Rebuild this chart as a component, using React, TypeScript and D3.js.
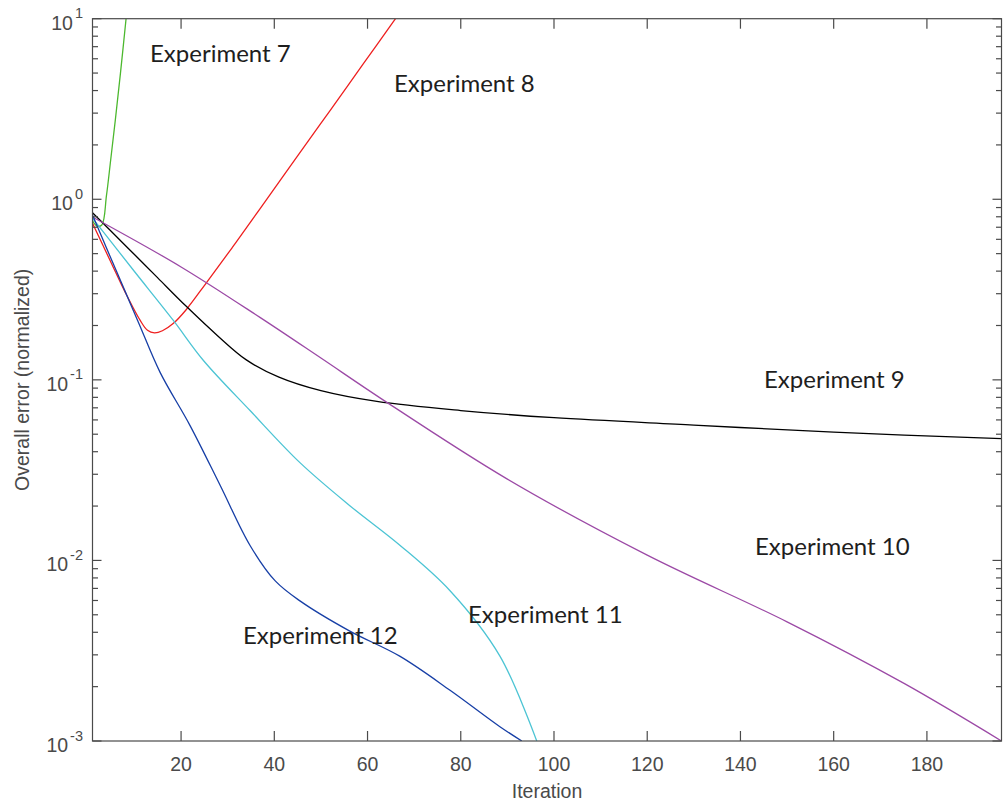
import React, { useEffect, useRef } from 'react';
import * as d3 from 'd3';

// iteration / normalized error
const iterExp7 = [1, 2, 3, 4, 4.9, 5.9, 7, 8.2];
const errExp7 = [0.76, 0.71, 0.72, 1.05, 1.65, 2.75, 5.0, 10];

const iterExp8 = [1, 4.75, 8, 11.2, 12.8, 14.3, 16, 18.3, 21, 25.5, 31, 37, 45, 52, 59, 66];
const errExp8 = [0.736, 0.46, 0.306, 0.214, 0.188, 0.182, 0.187, 0.205, 0.243, 0.347, 0.541, 0.891, 1.738, 3.11, 5.58, 10];

const iterExp9 = [1, 5, 10, 15, 21, 28, 34, 41, 50, 62, 80, 100, 130, 160, 196];
const errExp9 = [0.843, 0.665, 0.494, 0.367, 0.257, 0.174, 0.129, 0.1035, 0.0871, 0.0759, 0.0676, 0.0617, 0.0562, 0.0513, 0.0473];

const iterExp10 = [1, 20, 37, 50, 63, 90, 120, 150, 175, 196];
const errExp10 = [0.798, 0.422, 0.221, 0.132, 0.0785, 0.0282, 0.0107, 0.00457, 0.00209, 0.001];

const iterExp11 = [1, 5, 10, 18.3, 24.8, 34.8, 45.5, 56.2, 67, 77.7, 88.4, 96.3];
const errExp11 = [0.785, 0.581, 0.398, 0.214, 0.128, 0.0676, 0.0348, 0.0201, 0.0121, 0.00679, 0.00295, 0.001];

const iterExp12 = [1, 4, 8, 11, 15.5, 21.9, 28.4, 34.8, 40.2, 45.5, 56.2, 66.9, 77.7, 88.4, 93.1];
const errExp12 = [0.818, 0.537, 0.309, 0.204, 0.11, 0.056, 0.026, 0.0121, 0.0077, 0.00597, 0.00406, 0.00295, 0.00191, 0.0012, 0.001];

const xTicks = [20, 40, 60, 80, 100, 120, 140, 160, 180];
const yExponents = [1, 0, -1, -2, -3];

const series = [
  { name: 'Experiment 7', iters: iterExp7, errs: errExp7, color: '#4cb82e', label: [150, 62] },
  { name: 'Experiment 8', iters: iterExp8, errs: errExp8, color: '#ee2020', label: [394, 92] },
  { name: 'Experiment 9', iters: iterExp9, errs: errExp9, color: '#000000', label: [764, 388] },
  { name: 'Experiment 10', iters: iterExp10, errs: errExp10, color: '#9c4aa6', label: [755, 555] },
  { name: 'Experiment 11', iters: iterExp11, errs: errExp11, color: '#4cc4d4', label: [468, 623] },
  { name: 'Experiment 12', iters: iterExp12, errs: errExp12, color: '#173fa6', label: [243, 644] },
];

export default function App() {
  const svgRef = useRef<SVGSVGElement>(null);

  useEffect(() => {
    if (!svgRef.current) return;
    const svg = d3.select(svgRef.current);
    svg.selectAll('*').remove();

    const left = 92.5, right = 1001.5, top = 18.7, bottom = 741;
    const axisColor = '#4a4a4a';
    const font = '"Liberation Sans", Arial, Helvetica, sans-serif';

    const x = d3.scaleLinear().domain([1, 196]).range([left, right]);
    const y = d3.scaleLog().domain([1e-3, 10]).range([bottom, top]);

    svg.append('clipPath').attr('id', 'plot-clip')
      .append('rect')
      .attr('x', left).attr('y', top)
      .attr('width', right - left).attr('height', bottom - top);

    // curves
    const line = d3.line<[number, number]>()
      .x(d => x(d[0]))
      .y(d => y(d[1]))
      .curve(d3.curveCatmullRom.alpha(0.5));

    const curves = svg.append('g').attr('clip-path', 'url(#plot-clip)');
    series.forEach(s => {
      const pts = s.iters.map((it, i) => [it, s.errs[i]] as [number, number]);
      curves.append('path')
        .datum(pts)
        .attr('d', line as any)
        .attr('fill', 'none')
        .attr('stroke', s.color)
        .attr('stroke-width', 1.3);
    });

    // box
    const axes = svg.append('g').attr('stroke', axisColor).attr('stroke-width', 1.2).attr('fill', 'none');
    axes.append('rect')
      .attr('x', left).attr('y', top)
      .attr('width', right - left).attr('height', bottom - top);

    // x ticks (bottom and top, inward)
    xTicks.forEach(t => {
      axes.append('line').attr('x1', x(t)).attr('x2', x(t)).attr('y1', bottom).attr('y2', bottom - 10);
      axes.append('line').attr('x1', x(t)).attr('x2', x(t)).attr('y1', top).attr('y2', top + 10);
    });

    // y ticks: majors and minors (left and right, inward)
    yExponents.forEach(e => {
      const v = Math.pow(10, e);
      axes.append('line').attr('x1', left).attr('x2', left + 9).attr('y1', y(v)).attr('y2', y(v));
      axes.append('line').attr('x1', right).attr('x2', right - 9).attr('y1', y(v)).attr('y2', y(v));
      if (e < 1) {
        d3.range(2, 10).forEach(m => {
          const mv = m * v;
          axes.append('line').attr('x1', left).attr('x2', left + 5.5).attr('y1', y(mv)).attr('y2', y(mv));
          axes.append('line').attr('x1', right).attr('x2', right - 5.5).attr('y1', y(mv)).attr('y2', y(mv));
        });
      }
    });

    // tick labels
    const labels = svg.append('g').attr('fill', axisColor).attr('font-family', font);
    xTicks.forEach(t => {
      labels.append('text')
        .attr('x', x(t)).attr('y', 771)
        .attr('text-anchor', 'middle')
        .attr('font-size', 19.5)
        .text(String(t));
    });
    yExponents.forEach(e => {
      const txt = labels.append('text')
        .attr('x', 83).attr('y', y(Math.pow(10, e)) + 11)
        .attr('text-anchor', 'end')
        .attr('font-size', 19.5);
      txt.append('tspan').text('10');
      txt.append('tspan').attr('dx', 2).attr('dy', -11.5).attr('font-size', 14.5).text(String(e));
    });

    // axis titles
    labels.append('text')
      .attr('x', (left + right) / 2).attr('y', 798)
      .attr('text-anchor', 'middle')
      .attr('font-size', 19.5)
      .text('Iteration');
    labels.append('text')
      .attr('transform', `translate(29,${(top + bottom) / 2}) rotate(-90)`)
      .attr('text-anchor', 'middle')
      .attr('font-size', 19.5)
      .text('Overall error (normalized)');

    // curve annotations
    series.forEach(s => {
      svg.append('text')
        .attr('x', s.label[0]).attr('y', s.label[1])
        .attr('font-family', 'Lato, "Open Sans", sans-serif')
        .attr('font-size', 24)
        .attr('fill', '#1e1e1e')
        .text(s.name);
    });
  }, []);

  return (
    <svg
      ref={svgRef}
      width={1003}
      height={806}
      style={{ position: 'absolute', left: 0, top: 0, background: '#fff' }}
    />
  );
}
